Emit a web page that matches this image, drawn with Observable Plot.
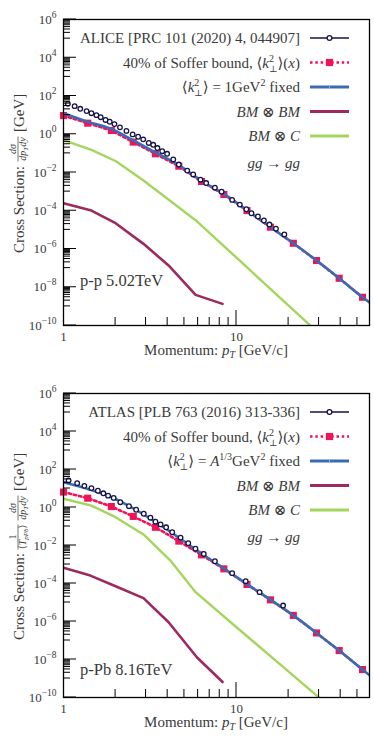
<!DOCTYPE html>
<html><head><meta charset="utf-8">
<script src="https://cdn.jsdelivr.net/npm/d3@7"></script>
<script src="https://cdn.jsdelivr.net/npm/@observablehq/plot@0.6"></script>
<style>
html,body{margin:0;padding:0;background:#fff;}
#chart{width:374px;}
#chart svg{display:block;}
#chart svg text{font-family:'Liberation Serif','DejaVu Serif','DejaVu Sans',serif;}
</style></head><body><div id="chart"></div>
<script>
// ---------- data ----------
const alicePt = [1.06,1.16,1.25,1.36,1.45,1.55,1.64,1.75,1.85,1.97,2.12,2.31,2.51,2.70,2.89,3.11,3.30,3.49,3.72,3.97,4.31,4.64,5.19,5.62,6.19,6.68,7.50,8.2,9.44,10.45,11.4,12.2,13.3,14.4,15.5,16.9,18.9];
const aliceXs = [38.9,29.5,21.4,16.2,12.6,10.0,7.8,5.6,4.5,3.4,2.3,1.5,0.98,0.74,0.54,0.35,0.28,0.19,0.13,0.095,0.048,0.026,0.0126,0.0079,0.0042,0.0028,0.0016,1.0e-3,3.7e-4,2.1e-4,1.2e-4,7.4e-5,5.0e-5,3.1e-5,1.9e-5,1.15e-5,5.8e-6];

const atlasPt = [1.07,1.20,1.32,1.45,1.58,1.70,1.81,1.95,2.13,2.39,2.63,2.91,3.18,3.40,3.64,3.92,4.25,4.75,5.26,5.79,6.47,7.50,9.44,11.3,13.6,18.6];
const atlasXs = [26.3,19.1,13.8,10.5,7.6,5.6,4.2,3.2,1.9,1.17,0.76,0.47,0.29,0.18,0.129,0.091,0.050,0.026,0.0132,0.0068,0.0036,0.00148,3.5e-4,1.32e-4,3.5e-5,6.9e-6];

const sofferPt = [1,1.38,1.89,2.53,3.40,4.64,6.28,8.45,11.5,15.7,21.3,29.0,39.2,53.5];
const sofferPP = [9.5,3.8,1.58,0.39,0.095,0.0214,3.4e-3,7.1e-4,1.02e-4,1.38e-5,2.0e-6,2.5e-7,2.95e-8,3.0e-9];
const sofferPPb = [6.5,3.1,1.12,0.34,0.091,0.017,3.2e-3,5.9e-4,8.9e-5,1.38e-5,2.1e-6,2.5e-7,2.95e-8,2.95e-9];

const fixedPt = [1,1.38,1.89,2.53,3.40,4.64,6.28,8.45,11.5,15.7,21.3,29.0,39.2,53.5,60];
const fixedPP = [12.6,4.57,1.9,0.48,0.112,0.024,3.7e-3,7.6e-4,1.07e-4,1.41e-5,2.0e-6,2.5e-7,2.95e-8,3.0e-9,1.4e-9];
const fixedPPb = [21.4,9.5,3.55,0.89,0.174,0.026,3.8e-3,6.3e-4,9.3e-5,1.41e-5,2.1e-6,2.5e-7,2.95e-8,2.95e-9,1.26e-9];

const bmbmPtPP = [1,1.45,2,2.9,4.05,5.8,8.3];
const bmbmPP = [2.5e-4,1.02e-4,2.24e-5,1.86e-6,1.38e-7,4.0e-9,1.35e-9];
const bmbmPtPPb = [1,1.43,2,2.9,4.05,5.9,8.3];
const bmbmPPb = [6.8e-4,2.6e-4,7.2e-5,1.7e-5,9.1e-7,1.32e-8,6.5e-10];

const bmcPtPP = [1,1.45,2,2.9,5.8,10,20,30];
const bmcPP = [0.5,0.151,0.04,3.8e-3,3.2e-5,3.5e-7,1.1e-9,3.8e-11];
const bmcPtPPb = [1,1.45,2,2.9,4.15,5.8,10,20,32];
const bmcPPb = [2.9,1.26,0.31,0.038,1.62e-3,3.5e-5,5.0e-7,2.3e-9,6.0e-11];

// axis ticks
const yMajor = [1e-10,1e-8,1e-6,1e-4,1e-2,1,1e2,1e4,1e6];
const yMinorDecades = [-9,-7,-5,-3,-1,1,3,5];
const xMinor = [2,3,4,5,6,7,8,9,20,30,40,50];
const xMajor = [10];
const xLabels = [1,10];
const xMax = 58.7;

// ---------- style ----------
const FONT = "'Liberation Serif','DejaVu Serif','DejaVu Sans',serif";
const TXT = "#3a3a3a";
const NAVY = "#16124a", RED = "#ee1457", BLUE = "#3a6cb4", PURPLE = "#9c2a5f", GREEN = "#a4d65e";

// ---------- rich text helper ----------
const T = t => ({t});
const I = t => ({t, i: true});
const SUP = t => ({t, off: -6, fs: 10});
const KPERP = [T("⟨"), I("k"), SUP("2"), {t: "⊥", off: 4, fs: 9, dx: -5}, T("⟩")];

function rich(g, x, y, segs, {anchor = "end", size = 15, fill = TXT} = {}) {
  const t = g.append("text").attr("x", x).attr("y", y).attr("text-anchor", anchor)
    .attr("font-size", size).attr("fill", fill);
  fillRich(t, segs);
  return t;
}
function fillRich(t, segs) {
  let cur = 0;
  for (const s of segs) {
    const off = s.off || 0;
    const ts = t.append("tspan").text(s.t);
    if (off - cur !== 0) ts.attr("dy", off - cur);
    cur = off;
    if (s.i) ts.attr("font-style", "italic");
    if (s.fs) ts.attr("font-size", s.fs);
    if (s.dx) ts.attr("dx", s.dx);
  }
}

// ---------- custom marks ----------
function tickMarks(index, scales, values, dims) {
  const g = d3.create("svg:g").attr("stroke", "#000").attr("stroke-width", 1);
  const x0 = dims.marginLeft, yb = dims.height - dims.marginBottom;
  for (const v of yMajor) { const y = scales.y(v); g.append("line").attr("x1", x0).attr("x2", x0 + 13).attr("y1", y).attr("y2", y); }
  for (const e of yMinorDecades) for (let k = 1; k <= 9; k++) {
    const y = scales.y(k * Math.pow(10, e));
    g.append("line").attr("x1", x0).attr("x2", x0 + 7).attr("y1", y).attr("y2", y);
  }
  for (const v of xMinor) { const x = scales.x(v); g.append("line").attr("x1", x).attr("x2", x).attr("y1", yb).attr("y2", yb - 8); }
  for (const v of xMajor) { const x = scales.x(v); g.append("line").attr("x1", x).attr("x2", x).attr("y1", yb).attr("y2", yb - 15); }
  return g.node();
}

const sampleData = (g, x1, x2, y) => {
  g.append("line").attr("x1", x1).attr("x2", x2).attr("y1", y).attr("y2", y).attr("stroke", NAVY).attr("stroke-width", 1.4);
  g.append("circle").attr("cx", (x1 + x2) / 2).attr("cy", y).attr("r", 2.4).attr("fill", "#fff").attr("stroke", NAVY).attr("stroke-width", 1.3);
};
const sampleSoffer = (g, x1, x2, y) => {
  g.append("line").attr("x1", x1).attr("x2", x2).attr("y1", y).attr("y2", y).attr("stroke", RED).attr("stroke-width", 2.6).attr("stroke-dasharray", "2.5,2.8");
  const c = (x1 + x2) / 2;
  g.append("rect").attr("x", c - 3.6).attr("y", y - 3.6).attr("width", 7.2).attr("height", 7.2).attr("fill", RED);
};
const sampleSolid = (col, plus) => (g, x1, x2, y) => {
  g.append("line").attr("x1", x1).attr("x2", x2).attr("y1", y).attr("y2", y).attr("stroke", col).attr("stroke-width", 2.8);
  if (plus) {
    const c = (x1 + x2) / 2;
    g.append("line").attr("x1", c).attr("x2", c).attr("y1", y - 2).attr("y2", y + 2).attr("stroke", "#8fb0e0").attr("stroke-width", 1);
  }
};

const rowY = [19, 43.5, 68, 92.5, 117, 143.5];
function legendMark(rows) {
  return (index, scales, values, dims) => {
    const g = d3.create("svg:g");
    const fx = dims.marginLeft, fy = dims.marginTop;
    rows.forEach((r, i) => {
      const cy = fy + rowY[i];
      rich(g, fx + 237, cy + 5, r.label);
      if (r.sample) r.sample(g, fx + 247, fx + 286, cy);
    });
    return g.node();
  };
}
function noteMark(text, rel) {
  return (index, scales, values, dims) => {
    const g = d3.create("svg:g");
    rich(g, dims.marginLeft + 17, dims.marginTop + rel, [T(text)], {anchor: "start", size: 16.5});
    return g.node();
  };
}
function xLabelMark(index, scales, values, dims) {
  const g = d3.create("svg:g");
  const cx = dims.marginLeft + (dims.width - dims.marginLeft - dims.marginRight) / 2;
  rich(g, cx, dims.height - dims.marginBottom + 30,
    [T("Momentum: "), I("p"), {t: "T", i: true, off: 3, fs: 10}, T(" [GeV/c]")], {anchor: "middle", size: 15});
  return g.node();
}
// rotated y label; parts placed at fixed offsets (u) along the axis from the frame centre
function yLabelMark(parts) {
  return (index, scales, values, dims) => {
    const cy = dims.marginTop + (dims.height - dims.marginTop - dims.marginBottom) / 2;
    const g = d3.create("svg:g").attr("transform", `translate(0,${cy}) rotate(-90)`).attr("fill", TXT);
    for (const p of parts) {
      if (p.text) {
        const t = g.append("text").attr("x", p.u).attr("y", 23.5).attr("font-size", 15).attr("text-anchor", p.anchor);
        fillRich(t, p.text);
      } else {
        g.append("text").attr("x", p.u).attr("y", 15.5).attr("font-size", 10).attr("text-anchor", "middle").call(t => fillRich(t, p.num));
        g.append("text").attr("x", p.u).attr("y", 26).attr("font-size", 10).attr("text-anchor", "middle").call(t => fillRich(t, p.den));
        g.append("line").attr("x1", p.u - p.w / 2).attr("x2", p.u + p.w / 2).attr("y1", 18).attr("y2", 18)
          .attr("stroke", TXT).attr("stroke-width", 0.7);
      }
    }
    return g.node();
  };
}

const pts = (pt, v) => pt.map((p, i) => ({pt: p, v: v[i]}));

function panel(cfg) {
  const svg = Plot.plot({
    width: 374, height: cfg.height,
    marginLeft: 63, marginRight: 5, marginTop: cfg.mt, marginBottom: cfg.mb,
    style: {fontFamily: FONT, background: "#fff", color: TXT, overflow: "visible"},
    x: {type: "log", domain: [1, xMax]},
    y: {type: "log", domain: [1e-10, 1e6]},
    marks: [
      Plot.line(pts(cfg.bmcPt, cfg.bmc), {x: "pt", y: "v", stroke: GREEN, strokeWidth: 2.4, clip: true}),
      Plot.line(pts(cfg.bmbmPt, cfg.bmbm), {x: "pt", y: "v", stroke: PURPLE, strokeWidth: 2.6, clip: true}),
      Plot.line(pts(sofferPt, cfg.soffer), {x: "pt", y: "v", stroke: RED, strokeWidth: 2.6, strokeDasharray: "2.5,2.8", clip: true}),
      Plot.dot(pts(sofferPt, cfg.soffer), {x: "pt", y: "v", symbol: "square", r: 4, fill: RED}),
      Plot.line(pts(fixedPt, cfg.fixed), {x: "pt", y: "v", stroke: BLUE, strokeWidth: 2.6, curve: "monotone-x", clip: true}),
      Plot.dot(pts(cfg.dataPt, cfg.data), {x: "pt", y: "v", r: 2.3, stroke: NAVY, strokeWidth: 1.3, fill: "#fff"}),
      Plot.frame({stroke: "#000", strokeWidth: 1.3}),
      Plot.axisY({ticks: yMajor, tickSize: 0, tickPadding: 7, fontSize: 13, label: null,
        tickFormat: d => "10^" + Math.round(Math.log10(d))}),
      Plot.axisX({ticks: xLabels, tickSize: 0, tickPadding: 6, fontSize: 13, label: null,
        tickFormat: d => String(d)}),
      tickMarks,
      legendMark(cfg.rows),
      noteMark(cfg.note, cfg.noteRel),
      xLabelMark,
      yLabelMark(cfg.ylabel)
    ]
  });
  // superscript exponents in tick labels
  d3.select(svg).selectAll('g[aria-label="y-axis tick label"] text').each(function () {
    const m = this.textContent.match(/^10\^(.+)$/);
    if (m) {
      this.textContent = "10";
      d3.select(this).append("tspan").attr("dy", -6).attr("font-size", 9.5).text(m[1].replace("-", "−"));
    }
  });
  return svg;
}

const commonRows = [
  {label: [T("40% of Soffer bound, "), ...KPERP, T("("), I("x"), T(")")], sample: sampleSoffer},
  null,
  {label: [I("BM"), T(" ⊗ "), I("BM")], sample: sampleSolid(PURPLE)},
  {label: [I("BM"), T(" ⊗ "), I("C")], sample: sampleSolid(GREEN)},
  {label: [I("gg"), T(" → "), I("gg")]}
];
const topRows = [
  {label: [T("ALICE [PRC 101 (2020) 4, 044907]")], sample: sampleData},
  commonRows[0],
  {label: [...KPERP, T(" = 1GeV"), SUP("2"), {t: " fixed", off: 0}], sample: sampleSolid(BLUE, true)},
  commonRows[2], commonRows[3], commonRows[4]
];
const botRows = [
  {label: [T("ATLAS [PLB 763 (2016) 313-336]")], sample: sampleData},
  commonRows[0],
  {label: [...KPERP, T(" = "), I("A"), SUP("1/3"), {t: "GeV", off: 0}, SUP("2"), {t: " fixed", off: 0}], sample: sampleSolid(BLUE, true)},
  commonRows[2], commonRows[3], commonRows[4]
];

const fracNum = [I("dσ")];
const fracDen = [I("dp"), {t: "T", i: true, off: 2, fs: 7}, {t: "dy", i: true, off: 0}];
const topYLabel = [
  {text: [T("Cross Section:")], u: 6, anchor: "end"},
  {num: fracNum, den: fracDen, u: 23, w: 25},
  {text: [T("[GeV]")], u: 40, anchor: "start"}
];
const botYLabel = [
  {text: [T("Cross Section:")], u: -8, anchor: "end"},
  {num: [T("1")], den: [T("⟨"), I("T"), {t: "pPb", i: true, off: 2, fs: 7}, {t: "⟩", off: 0}], u: 8, w: 25},
  {num: fracNum, den: fracDen, u: 37, w: 25},
  {text: [T("[GeV]")], u: 54, anchor: "start"}
];

const svg1 = panel({height: 370, mt: 19, mb: 45, dataPt: alicePt, data: aliceXs, soffer: sofferPP, fixed: fixedPP,
  bmbmPt: bmbmPtPP, bmbm: bmbmPP, bmcPt: bmcPtPP, bmc: bmcPP, rows: topRows, note: "p-p 5.02TeV", noteRel: 266.5, ylabel: topYLabel});
const svg2 = panel({height: 377, mt: 23, mb: 50, dataPt: atlasPt, data: atlasXs, soffer: sofferPPb, fixed: fixedPPb,
  bmbmPt: bmbmPtPPb, bmbm: bmbmPPb, bmcPt: bmcPtPPb, bmc: bmcPPb, rows: botRows, note: "p-Pb 8.16TeV", noteRel: 281.5, ylabel: botYLabel});

document.getElementById("chart").append(svg1, svg2);
</script></body></html>
